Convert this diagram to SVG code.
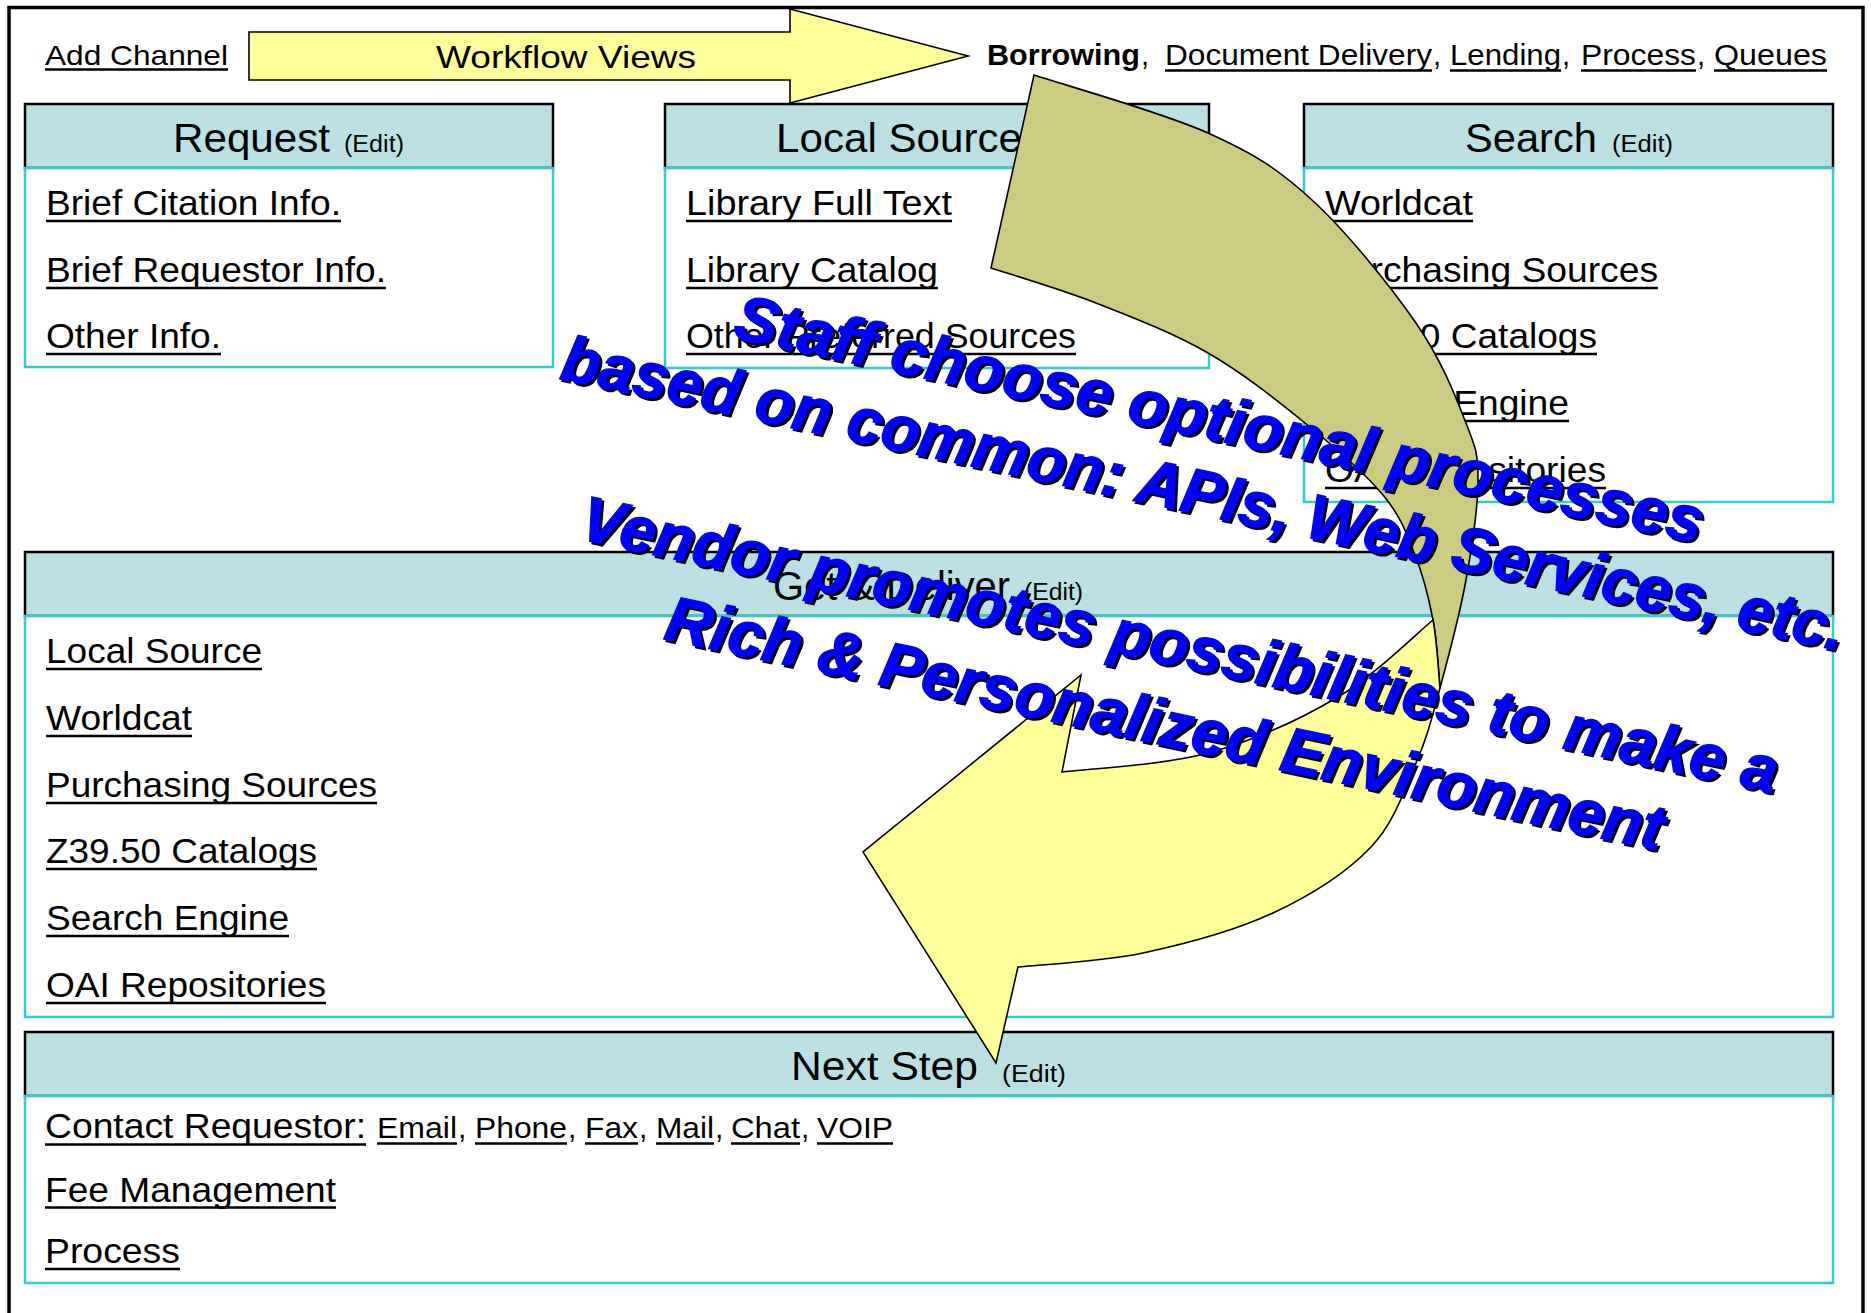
<svg xmlns="http://www.w3.org/2000/svg" width="1871" height="1313" viewBox="0 0 1871 1313">
<style>
.hdr{fill:#BBE0E3;stroke:#000;stroke-width:2.5}
.body{fill:#fff;stroke:#33CCCC;stroke-width:2.5}
text{font-family:"Liberation Sans",Arial,sans-serif;fill:#000}
.title{font-size:40px}
.edit{font-size:23px}
.item{font-size:35px}
.small{font-size:30px}
.top{font-size:29px}
.ul{stroke:#000;stroke-width:2.5}
.blue{font-weight:bold;font-style:italic;font-size:64px;fill:#0000FF;stroke:#0000FF;stroke-width:1.3;text-anchor:middle}
.shd{font-weight:bold;font-style:italic;font-size:64px;fill:#000;stroke:#000;stroke-width:1.3;text-anchor:middle}
.arr{stroke:#000;stroke-width:1.6;stroke-linejoin:miter}
</style>
<rect x="0" y="0" width="1871" height="1313" fill="#fff"/>
<rect id="frame" x="9" y="7.5" width="1854" height="1400" fill="none" stroke="#000" stroke-width="3.5"/>

<g id="toolbar">
<text x="45" y="65" font-size="28" textLength="183" lengthAdjust="spacingAndGlyphs">Add Channel</text>
<line class="ul" x1="45" y1="69.5" x2="228" y2="69.5"/>
<polygon class="arr" fill="#FFFF99" stroke-width="2" points="249,32 790,32 790,9 968,56 790,103 790,80 249,80"/>
<text x="436" y="68" font-size="32" textLength="260" lengthAdjust="spacingAndGlyphs">Workflow Views</text>
<text class="top" x="987" y="65" font-weight="bold" textLength="153" lengthAdjust="spacingAndGlyphs">Borrowing</text>
<text class="top" x="1141" y="65">,</text>
<text class="top" x="1165" y="65" textLength="267" lengthAdjust="spacingAndGlyphs">Document Delivery</text>
<text class="top" x="1433" y="65">,</text>
<text class="top" x="1450" y="65" textLength="111" lengthAdjust="spacingAndGlyphs">Lending</text>
<text class="top" x="1562" y="65">,</text>
<text class="top" x="1581" y="65" textLength="115" lengthAdjust="spacingAndGlyphs">Process</text>
<text class="top" x="1697" y="65">,</text>
<text class="top" x="1714" y="65" textLength="113" lengthAdjust="spacingAndGlyphs">Queues</text>
<g class="ul">
<line x1="1165" y1="70.5" x2="1432" y2="70.5"/>
<line x1="1450" y1="70.5" x2="1561" y2="70.5"/>
<line x1="1581" y1="70.5" x2="1696" y2="70.5"/>
<line x1="1714" y1="70.5" x2="1827" y2="70.5"/>
</g>
</g>

<g id="request">
<rect class="hdr" x="25" y="104" width="528" height="64"/>
<rect class="body" x="25" y="168" width="528" height="199"/>
<text class="title" x="173" y="152" textLength="157" lengthAdjust="spacingAndGlyphs">Request</text>
<text class="edit" x="344" y="152" textLength="60" lengthAdjust="spacingAndGlyphs">(Edit)</text>
<text class="item" x="46" y="215" textLength="295" lengthAdjust="spacingAndGlyphs">Brief Citation Info.</text>
<text class="item" x="46" y="282" textLength="340" lengthAdjust="spacingAndGlyphs">Brief Requestor Info.</text>
<text class="item" x="46" y="348" textLength="175" lengthAdjust="spacingAndGlyphs">Other Info.</text>
<g class="ul">
<line x1="46" y1="221" x2="341" y2="221"/>
<line x1="46" y1="288" x2="386" y2="288"/>
<line x1="46" y1="354" x2="221" y2="354"/>
</g>
</g>

<g id="local-source">
<rect class="hdr" x="665" y="104" width="544" height="64"/>
<rect class="body" x="665" y="168" width="544" height="200"/>
<text class="title" x="776" y="152" textLength="246" lengthAdjust="spacingAndGlyphs">Local Source</text>
<text class="edit" x="1036" y="152" textLength="60" lengthAdjust="spacingAndGlyphs">(Edit)</text>
<text class="item" x="686" y="215" textLength="266" lengthAdjust="spacingAndGlyphs">Library Full Text</text>
<text class="item" x="686" y="282" textLength="252" lengthAdjust="spacingAndGlyphs">Library Catalog</text>
<text class="item" x="686" y="348" textLength="390" lengthAdjust="spacingAndGlyphs">Other Preferred Sources</text>
<g class="ul">
<line x1="686" y1="221" x2="952" y2="221"/>
<line x1="686" y1="288" x2="938" y2="288"/>
<line x1="686" y1="354" x2="1076" y2="354"/>
</g>
</g>

<g id="search">
<rect class="hdr" x="1304" y="104" width="529" height="64"/>
<rect class="body" x="1304" y="168" width="529" height="334"/>
<text class="title" x="1465" y="152" textLength="132" lengthAdjust="spacingAndGlyphs">Search</text>
<text class="edit" x="1612" y="152" textLength="61" lengthAdjust="spacingAndGlyphs">(Edit)</text>
<text class="item" x="1325" y="215" textLength="148" lengthAdjust="spacingAndGlyphs">Worldcat</text>
<text class="item" x="1325" y="282" textLength="333" lengthAdjust="spacingAndGlyphs">Purchasing Sources</text>
<text class="item" x="1325" y="348" textLength="272" lengthAdjust="spacingAndGlyphs">Z39.50 Catalogs</text>
<text class="item" x="1325" y="415" textLength="244" lengthAdjust="spacingAndGlyphs">Search Engine</text>
<text class="item" x="1325" y="482" textLength="281" lengthAdjust="spacingAndGlyphs">OAI Repositories</text>
<g class="ul">
<line x1="1325" y1="221" x2="1473" y2="221"/>
<line x1="1325" y1="288" x2="1658" y2="288"/>
<line x1="1325" y1="354" x2="1597" y2="354"/>
<line x1="1325" y1="421" x2="1569" y2="421"/>
<line x1="1325" y1="488" x2="1606" y2="488"/>
</g>
</g>

<g id="get-deliver">
<rect class="hdr" x="25" y="552" width="1808" height="64"/>
<rect class="body" x="25" y="616" width="1808" height="401"/>
<text class="title" x="773" y="600" textLength="237" lengthAdjust="spacingAndGlyphs">Get &amp; Deliver</text>
<text class="edit" x="1024" y="600" textLength="59" lengthAdjust="spacingAndGlyphs">(Edit)</text>
<text class="item" x="46" y="663" textLength="216" lengthAdjust="spacingAndGlyphs">Local Source</text>
<text class="item" x="46" y="730" textLength="146" lengthAdjust="spacingAndGlyphs">Worldcat</text>
<text class="item" x="46" y="797" textLength="331" lengthAdjust="spacingAndGlyphs">Purchasing Sources</text>
<text class="item" x="46" y="863" textLength="271" lengthAdjust="spacingAndGlyphs">Z39.50 Catalogs</text>
<text class="item" x="46" y="930" textLength="243" lengthAdjust="spacingAndGlyphs">Search Engine</text>
<text class="item" x="46" y="997" textLength="280" lengthAdjust="spacingAndGlyphs">OAI Repositories</text>
<g class="ul">
<line x1="46" y1="669" x2="262" y2="669"/>
<line x1="46" y1="736" x2="192" y2="736"/>
<line x1="46" y1="803" x2="377" y2="803"/>
<line x1="46" y1="869" x2="317" y2="869"/>
<line x1="46" y1="936" x2="289" y2="936"/>
<line x1="46" y1="1003" x2="326" y2="1003"/>
</g>
</g>

<g id="next-step">
<rect class="hdr" x="25" y="1032" width="1808" height="64"/>
<rect class="body" x="25" y="1096" width="1808" height="187"/>
<text class="title" x="791" y="1080" textLength="187" lengthAdjust="spacingAndGlyphs">Next Step</text>
<text class="edit" x="1002" y="1082" textLength="64" lengthAdjust="spacingAndGlyphs">(Edit)</text>
<text class="item" x="45" y="1138" textLength="321" lengthAdjust="spacingAndGlyphs">Contact Requestor:</text>
<text class="small" x="377" y="1138" textLength="80" lengthAdjust="spacingAndGlyphs">Email</text>
<text class="small" x="458" y="1138">,</text>
<text class="small" x="475" y="1138" textLength="92" lengthAdjust="spacingAndGlyphs">Phone</text>
<text class="small" x="568" y="1138">,</text>
<text class="small" x="585" y="1138" textLength="53" lengthAdjust="spacingAndGlyphs">Fax</text>
<text class="small" x="639" y="1138">,</text>
<text class="small" x="656" y="1138" textLength="58" lengthAdjust="spacingAndGlyphs">Mail</text>
<text class="small" x="715" y="1138">,</text>
<text class="small" x="731" y="1138" textLength="69" lengthAdjust="spacingAndGlyphs">Chat</text>
<text class="small" x="801" y="1138">,</text>
<text class="small" x="817" y="1138" textLength="76" lengthAdjust="spacingAndGlyphs">VOIP</text>
<text class="item" x="45" y="1202" textLength="291" lengthAdjust="spacingAndGlyphs">Fee Management</text>
<text class="item" x="45" y="1263" textLength="135" lengthAdjust="spacingAndGlyphs">Process</text>
<g class="ul">
<line x1="45" y1="1144.5" x2="366" y2="1144.5"/>
<line x1="377" y1="1143.5" x2="457" y2="1143.5"/>
<line x1="475" y1="1143.5" x2="567" y2="1143.5"/>
<line x1="585" y1="1143.5" x2="638" y2="1143.5"/>
<line x1="656" y1="1143.5" x2="714" y2="1143.5"/>
<line x1="731" y1="1143.5" x2="800" y2="1143.5"/>
<line x1="817" y1="1143.5" x2="893" y2="1143.5"/>
<line x1="45" y1="1207.5" x2="336" y2="1207.5"/>
<line x1="45" y1="1269" x2="180" y2="1269"/>
</g>
</g>

<g id="connectors">
<path id="curved-arrow-back" class="arr" fill="#CCCC80" d="M1034,75 C1063,84.7 1161.7,112.2 1208,133 C1254.3,153.8 1277.3,168.3 1312,200 C1346.7,231.7 1390.3,285.8 1416,323 C1441.7,360.2 1455.7,396.8 1466,423 C1476.3,449.2 1478,453.8 1478,480 C1478,506.2 1472.3,545.3 1466,580 C1459.7,614.7 1448.3,657.5 1440,688 C1438.8,676.7 1437.2,642.2 1433,620 C1428.8,597.8 1423.3,575.8 1415,555 C1406.7,534.2 1401.3,517 1383,495 C1364.7,473 1334.2,446.7 1305,423 C1275.8,399.3 1242.8,373 1208,353 C1173.2,333 1132.2,317.2 1096,303 C1059.8,288.8 1008.5,273.8 991,268 Z"/>
<path id="curved-arrow-front" class="arr" fill="#FFFF99" d="M1433,620 C1437.2,642.2 1438.8,676.7 1440,688 C1431.7,718.5 1427.5,736.5 1416,763 C1404.5,789.5 1394.8,822 1371,847 C1347.2,872 1311,895.3 1273,913 C1235,930.7 1185.5,944 1143,953 C1100.5,962 1038.8,964.7 1018,967 L996,1063 L863,852 L1081,675 L1062,772 C1086.3,768.8 1162,765.5 1208,753 C1254,740.5 1300.5,719.2 1338,697 C1375.5,674.8 1417.2,632.8 1433,620 Z"/>
</g>

<g id="callout">
<g transform="translate(2.5,2.5)">
<text class="shd" transform="translate(1215,440.2) rotate(12)" textLength="988" lengthAdjust="spacingAndGlyphs">Staff choose optional processes</text>
<text class="shd" transform="translate(1199.2,514.6) rotate(12)" textLength="1310" lengthAdjust="spacingAndGlyphs">based on common: APIs, Web Services, etc.</text>
<text class="shd" transform="translate(1175.2,665.9) rotate(12)" textLength="1222" lengthAdjust="spacingAndGlyphs">Vendor promotes possibilities to make a</text>
<text class="shd" transform="translate(1160.5,744.6) rotate(12)" textLength="1018" lengthAdjust="spacingAndGlyphs">Rich &amp; Personalized Environment</text>
</g>
<text class="blue" transform="translate(1215,440.2) rotate(12)" textLength="988" lengthAdjust="spacingAndGlyphs">Staff choose optional processes</text>
<text class="blue" transform="translate(1199.2,514.6) rotate(12)" textLength="1310" lengthAdjust="spacingAndGlyphs">based on common: APIs, Web Services, etc.</text>
<text class="blue" transform="translate(1175.2,665.9) rotate(12)" textLength="1222" lengthAdjust="spacingAndGlyphs">Vendor promotes possibilities to make a</text>
<text class="blue" transform="translate(1160.5,744.6) rotate(12)" textLength="1018" lengthAdjust="spacingAndGlyphs">Rich &amp; Personalized Environment</text>
</g>
</svg>
